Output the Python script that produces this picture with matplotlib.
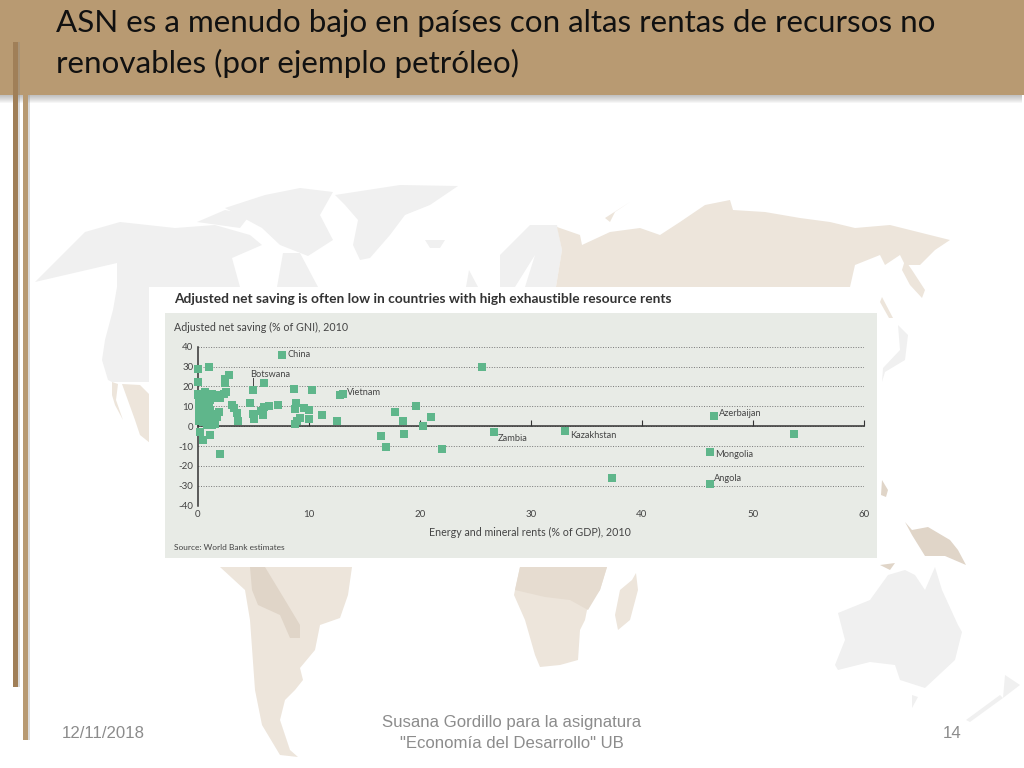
"""Slide with the adjusted net saving scatter over a pale world map."""

import matplotlib
matplotlib.use("Agg")
import matplotlib.pyplot as plt
from matplotlib.patches import Polygon, Rectangle

plt.rcParams["axes.unicode_minus"] = False

W, H = 1024, 768

# chart data
rents = [7.6, 0, 1, 25.6, 0, 2.85, 2.5, 2.5, 6, 5, 8.65, 10.3, 12.8, 13.05, 2.55, 2, 2.05, 2.4, 0.65, 1.3,
         1.3, 0, 3.05, 3.25, 3.5, 3.6, 4.7, 5, 5.1, 5.7, 5.9, 5.95, 6.45, 7.2, 8.85, 8.8, 9.6, 10, 9.2, 8.9,
         8.8, 10, 11.2, 12.55, 16.5, 17, 17.8, 18.5, 18.55, 19.7, 20.3, 21, 22, 26.7, 33.1, 46.5, 53.7, 46.1,
         37.3, 46.1, 0.25, 0.45, 1.1, 2.05,
         0, 0.1, 0.3, 0.1, 0.4, 0.2, 0.5, 0.1, 0.7, 0.9, 1.1, 0.6, 0.3, 0.6, 0.9, 0.1, 0.4, 0.2, 0.7, 0.1,
         0.3, 0.1, 0.5, 0.8, 1.0, 0.9, 1.2, 1.3, 0.8, 1.6, 1.6, 1.7, 1.6, 1.9, 1.1, 1.3, 0.6, 1.4, 1.0, 1.2,
         0.8, 0.5, 0.3, 0.6, 1.1, 1.4]
saving = [36, 29, 30, 29.6, 22, 26, 23.5, 21.5, 21.5, 18.4, 18.6, 18.3, 15.6, 16, 17.3, 15.6, 14.2, 16.4, 17, 16.4,
          14.2, 16, 10.5, 9.2, 6.4, 2.7, 11.9, 6, 3.7, 7.5, 5.5, 9.9, 10.2, 10.9, 11.6, 8.9, 9.2, 8, 4.2, 2.5,
          1.3, 3.5, 5.7, 2.7, -5, -10.6, 7, 2.7, -3.7, 10, 0, 4.4, -11.6, -2.8, -2.3, 5, -3.7, -13,
          -26.3, -29, -2.8, -7, -4.4, -14.2,
          15.5, 14, 13, 12, 11.5, 10.5, 10, 9.5, 11, 12.5, 13, 14, 8.5, 8.5, 9.5, 7.5, 7, 6, 6.5, 4.5,
          3.5, 2.5, 2, 4.8, 4, 1.5, 1, 0.5, 0.5, 1, 2.5, 4.5, 6, 7, 2.5, 5, 3, 3.5, 10.5, 15,
          11, 5, 12, 9.5, 8, 14]
label_names = ["China", "Botswana", "Vietnam", "Zambia", "Kazakhstan", "Azerbaijan", "Mongolia", "Angola"]
label_x = [8.1, 4.7, 13.45, 27.05, 33.5, 46.95, 46.55, 46.5]
label_y = [36.2, 26, 17, -6.3, -4.7, 6.5, -14.2, -26.5]
x_ticks = [0, 10, 20, 30, 40, 50, 60]
y_ticks = [-40, -30, -20, -10, 0, 10, 20, 30, 40]

# map shapes for the slide background, in pixels
GRAY_LAND = [
    [(35, 282), (65, 252), (85, 232), (120, 222), (175, 228), (215, 225), (250, 235), (262, 245), (232, 258),
     (240, 287), (150, 287), (150, 382), (112, 382), (108, 380), (102, 360), (105, 340), (113, 310), (117, 287),
     (117, 263)],
    [(277, 287), (283, 253), (300, 253), (318, 287)],
    [(197, 222), (225, 210), (250, 215), (240, 228)],
    [(225, 208), (265, 195), (300, 188), (333, 192), (320, 215), (333, 240), (308, 256), (280, 245), (262, 228)],
    [(335, 195), (400, 185), (458, 186), (430, 205), (405, 215), (390, 235), (370, 258), (360, 260), (353, 245),
     (358, 220), (345, 205)],
    [(425, 240), (445, 240), (440, 248), (430, 248)],
    [(500, 255), (530, 225), (557, 225), (562, 250), (556, 287), (525, 287), (535, 255), (515, 287), (500, 287)],
    [(466, 287), (469, 270), (478, 287)],
    [(838, 613), (870, 600), (888, 575), (905, 570), (915, 575), (925, 590), (935, 567), (942, 590), (958, 625),
     (962, 632), (955, 660), (925, 688), (900, 680), (895, 665), (870, 662), (838, 670), (835, 665), (845, 640)],
    [(912, 695), (918, 697), (912, 708)],
    [(966, 720), (1000, 695), (1003, 698), (970, 722)],
    [(1005, 675), (1020, 685), (1003, 698)],
    [(898, 325), (908, 335), (905, 360), (885, 372), (882, 382), (883, 368), (900, 350)],
]
BEIGE_LAND = [
    [(122, 384), (140, 385), (150, 395), (150, 443), (140, 435), (135, 420)],
    [(112, 382), (118, 384), (116, 400), (123, 420), (115, 405), (112, 395)],
    [(557, 227), (580, 235), (582, 245), (610, 232), (640, 228), (660, 235), (680, 222), (705, 205), (730, 200),
     (733, 210), (765, 212), (800, 218), (830, 222), (855, 228), (890, 225), (910, 230), (950, 240), (935, 250),
     (920, 265), (905, 265), (900, 255), (885, 265), (880, 255), (855, 265), (850, 287), (556, 287), (562, 250)],
    [(905, 260), (912, 270), (925, 290), (922, 298), (910, 285), (902, 270)],
    [(882, 297), (893, 318), (889, 318), (880, 302)],
    [(605, 218), (630, 202), (615, 212), (610, 222)],
    [(220, 567), (352, 567), (348, 595), (340, 618), (320, 625), (315, 650), (300, 668), (303, 680), (295, 690),
     (285, 700), (280, 720), (290, 750), (298, 757), (280, 755), (262, 725), (255, 690), (250, 620), (245, 590)],
    [(520, 567), (607, 567), (600, 590), (588, 605), (585, 620), (580, 630), (578, 660), (560, 665), (540, 667),
     (535, 655), (525, 620), (514, 595), (515, 590)],
    [(636, 573), (638, 590), (630, 620), (618, 630), (615, 615), (620, 590), (632, 580)],
]
MID_LAND = [
    [(515, 590), (520, 567), (607, 567), (600, 590), (588, 610), (570, 600), (545, 597)],
]
DARK_LAND = [
    [(250, 567), (265, 567), (285, 600), (300, 625), (300, 638), (290, 638), (280, 615), (258, 605), (252, 590)],
    [(905, 522), (912, 530), (928, 527), (950, 540), (958, 550), (966, 565), (945, 556), (925, 556), (912, 535)],
    [(882, 480), (888, 490), (886, 497), (881, 495)],
    [(880, 565), (895, 563), (890, 570)],
]

fig = plt.figure(figsize=(W / 100, H / 100), dpi=100, facecolor="white")

# slide layer, y runs downwards as in the screenshot
bg = fig.add_axes([0, 0, 1, 1])
bg.set_xlim(0, W)
bg.set_ylim(H, 0)
bg.axis("off")

for shape in GRAY_LAND:
    bg.add_patch(Polygon(shape, fc="#f0f0f0", ec="none", zorder=1))
for shape in BEIGE_LAND:
    bg.add_patch(Polygon(shape, fc="#ede5db", ec="none", zorder=1))
for shape in MID_LAND:
    bg.add_patch(Polygon(shape, fc="#e6dcd0", ec="none", zorder=1.1))
for shape in DARK_LAND:
    bg.add_patch(Polygon(shape, fc="#e0d5c8", ec="none", zorder=1.1))

bg.add_patch(Rectangle((149, 287), 729, 280, fc="white", ec="none", zorder=2))
bg.add_patch(Rectangle((165, 313), 712, 245, fc="#e8ebe6", ec="none", zorder=3))

# header band and the two side bars with soft shadows
for i in range(10):
    bg.add_patch(Rectangle((0, 93), W - 2, 1 + i, fc="#555555", ec="none", alpha=0.05, zorder=5))
bg.add_patch(Rectangle((23, 95), 5, 645, fc="#b89a72", ec="none", zorder=6))
bg.add_patch(Rectangle((28, 95), 2, 645, fc="#999999", ec="none", alpha=0.35, zorder=6))
bg.add_patch(Rectangle((0, 0), W, 95, fc="#b89a72", ec="none", zorder=7))
bg.add_patch(Rectangle((13, 42), 5, 645, fc="#a07f58", ec="none", zorder=8))
bg.add_patch(Rectangle((18, 42), 2, 645, fc="#888888", ec="none", alpha=0.3, zorder=8))

bg.text(56, 23, "ASN es a menudo bajo en países con altas rentas de recursos no", fontsize=22.6,
        family="Lato", color="#111111", va="center", zorder=9)
bg.text(56, 63, "renovables (por ejemplo petróleo)", fontsize=22.6, family="Lato", color="#111111",
        va="center", zorder=9)

FOOT = "#8c8c8c"
bg.text(62, 733, "12/11/2018", fontsize=12.1, family="Liberation Sans", color=FOOT, va="center", zorder=9)
bg.text(512, 723, "Susana Gordillo para la asignatura", fontsize=12.1, family="Liberation Sans", color=FOOT,
        ha="center", va="center", zorder=9)
bg.text(512, 744, '"Economía del Desarrollo" UB', fontsize=12.1, family="Liberation Sans", color=FOOT,
        ha="center", va="center", zorder=9)
bg.text(961, 733, "14", fontsize=12.1, family="Liberation Sans", color=FOOT, ha="right", va="center", zorder=9)

bg.text(174, 299, "Adjusted net saving is often low in countries with high exhaustible resource rents",
        fontsize=9.9, family="Lato", weight="bold", color="#333333", va="center", zorder=9)
bg.text(174, 327, "Adjusted net saving (% of GNI), 2010", fontsize=7.7, family="Lato", color="#444444",
        va="center", zorder=9)
bg.text(530, 532, "Energy and mineral rents (% of GDP), 2010", fontsize=7.65, family="Lato", color="#444444",
        ha="center", va="center", zorder=9)
bg.text(174, 547, "Source: World Bank estimates", fontsize=6, family="Lato", color="#444444",
        va="center", zorder=9)

# chart layer
ax = fig.add_axes([197.7 / W, 1 - 505.7 / H, (864 - 197.7) / W, (505.7 - 346.7) / H], zorder=2)
ax.patch.set_alpha(0)
ax.set_xlim(0, 60)
ax.set_ylim(-40, 40)
for side in ["top", "right"]:
    ax.spines[side].set_visible(False)
ax.spines["bottom"].set_position(("data", 0))
ax.spines["bottom"].set_color("#333333")
ax.spines["bottom"].set_linewidth(1.1)
ax.spines["left"].set_color("#333333")
ax.spines["left"].set_linewidth(1.1)
ax.set_xticks(x_ticks)
ax.set_yticks(y_ticks)
ax.tick_params(axis="x", direction="in", length=4, width=0.8, color="#333333", labelbottom=False)
ax.tick_params(axis="y", length=0, pad=3, labelsize=7, labelcolor="#444444")
for lab in ax.get_yticklabels():
    lab.set_family("Lato")
ax.set_axisbelow(True)
ax.grid(axis="y", linestyle=(0, (1, 1.6)), linewidth=0.7, color="#777777")
ax.grid(axis="x", visible=False)

for t in x_ticks:
    ax.text(t, -44.5, str(t), fontsize=7, family="Lato", color="#444444", ha="center", va="center")

ax.scatter(rents, saving, marker="s", s=29, color="#5fb68b", linewidths=0, zorder=3, clip_on=False)
ax.plot([5, 5], [19, 24.5], color="#444444", lw=0.7, zorder=2)
for name, lx, ly in zip(label_names, label_x, label_y):
    ax.text(lx, ly, name, fontsize=6.7, family="Lato", color="#444444", va="center", zorder=4)

fig.savefig("out.png", dpi=100)
